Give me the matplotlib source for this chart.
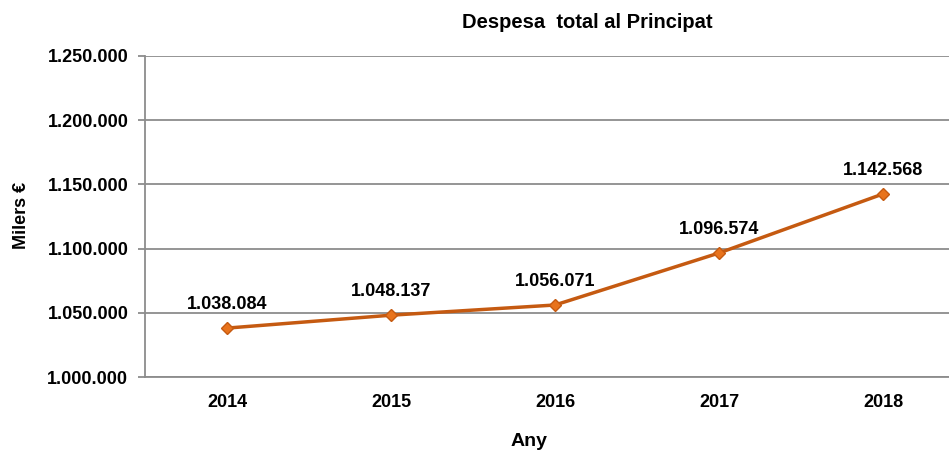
"""
Despesa total al Principat, 2014-2018
"""

import matplotlib
matplotlib.use('Agg')
import matplotlib.pyplot as plt
from matplotlib.ticker import FuncFormatter

plt.rcParams['font.family'] = ['Liberation Sans', 'DejaVu Sans']

years = ['2014', '2015', '2016', '2017', '2018']
spending = [1038084, 1048137, 1056071, 1096574, 1142568]
y_ticks = [1000000, 1050000, 1100000, 1150000, 1200000, 1250000]

LINE = '#C55A11'
MARKER = '#E8731C'
GRID = '#8C8C8C'


def dotted(v, pos=None):
    return '{:,.0f}'.format(v).replace(',', '.')


fig = plt.figure(figsize=(9.49, 4.5), dpi=100)
# plot area runs past the right edge, as in the original
ax = fig.add_axes([145 / 949, 73 / 450, 820 / 949, 321 / 450])

x = list(range(len(years)))
ax.plot(x, spending, color=LINE, linewidth=2.5, marker='D', markersize=6.5,
        markerfacecolor=MARKER, markeredgecolor=LINE, markeredgewidth=1, zorder=3)

for xi, v in zip(x, spending):
    ax.annotate(dotted(v), (xi, v), xytext=(0, 11), textcoords='offset points',
                ha='center', va='bottom', fontsize=13, fontweight='bold')

ax.set_xlim(-0.5, len(years) - 0.5)
ax.set_ylim(y_ticks[0], y_ticks[-1])
ax.set_yticks(y_ticks)
ax.yaxis.set_major_formatter(FuncFormatter(dotted))
ax.set_xticks(x)
ax.set_xticklabels(years)
ax.grid(axis='y', color=GRID, linewidth=1.3)
ax.set_axisbelow(True)

for side in ['top', 'right']:
    ax.spines[side].set_visible(False)
ax.spines['left'].set_color(GRID)
ax.spines['left'].set_linewidth(1.3)
ax.spines['bottom'].set_color(GRID)
ax.spines['bottom'].set_linewidth(1.3)

ax.tick_params(axis='y', length=5, width=1.3, color=GRID, pad=7, labelsize=13)
ax.tick_params(axis='x', length=0, pad=12, labelsize=13)
for lbl in ax.get_xticklabels() + ax.get_yticklabels():
    lbl.set_fontweight('bold')

fig.text(587 / 949, 1 - 22 / 450, 'Despesa  total al Principat', ha='center', va='center',
         fontsize=14.5, fontweight='bold')
fig.text(21 / 949, 1 - 215 / 450, 'Milers €', rotation=90, ha='center', va='center',
         fontsize=13, fontweight='bold')
fig.text(529 / 949, 1 - 441 / 450, 'Any', ha='center', va='center',
         fontsize=14, fontweight='bold')

fig.savefig('out.png', dpi=100)
